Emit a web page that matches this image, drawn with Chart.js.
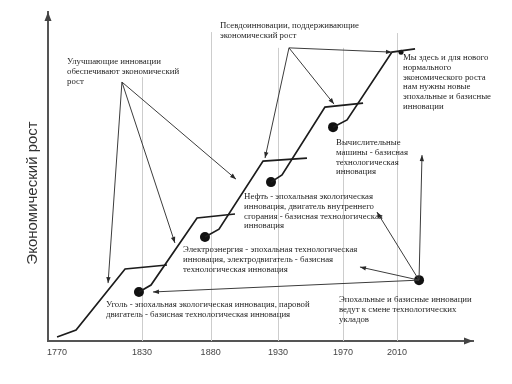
<!DOCTYPE html>
<html><head><meta charset="utf-8">
<script src="https://cdn.jsdelivr.net/npm/chart.js@4"></script>
<style>html,body{margin:0;padding:0;background:#fff;}#wrap{width:512px;height:384px;}</style>
</head><body><div id="wrap"><canvas id="c" width="512" height="384"></canvas></div>
<script>
// Schematic time axis (years) and economic growth level (0..10)
const tickYears  = [1770, 1830, 1878.4, 1926, 1971.9, 2010];
const tickLabels = ['1770', '1830', '1880', '1930', '1970', '2010'];
const gridYears  = [1830, 1878.4, 1926, 1971.9, 2010];
const gridTops   = [8.02, 9.39, 8.91, 8.91, 9.36];

// Growth staircase: one step per technological wave
const coalStep     = [[1770.0,0.12],[1783.4,0.33],[1818.0,2.19],[1847.6,2.31]];
const electricStep = [[1827.8,1.49],[1836.3,1.70],[1868.8,3.74],[1895.6,3.86]];
const oilStep      = [[1874.4,3.16],[1884.3,3.40],[1915.4,5.47],[1946.4,5.56]];
const computerStep = [[1921.0,4.83],[1928.8,5.05],[1959.1,7.11],[1986.0,7.23]];
const futureStep   = [[1964.8,6.50],[1974.7,6.72],[2006.4,8.78],[2022.7,8.88]];

// Innovation points
const bigDots   = [[1827.8,1.49],[1874.4,3.16],[1921.0,4.83],[1964.8,6.50],[2025.5,1.85]];
const smallDots = [[2012.8,8.78]];

// Arrows (from, to)
const improveArrows = [
  [[1815.8,7.87],[1806.0,1.76]],
  [[1815.8,7.87],[1853.2,2.98]],
  [[1815.8,7.87],[1896.3,4.92]]
];
const pseudoArrows = [
  [[1933.7,8.91],[1916.8,5.56]],
  [[1933.7,8.91],[1965.5,7.20]],
  [[1933.7,8.91],[2006.4,8.78]]
];
const shiftArrows = [
  [[2025.5,1.85],[2027.6,5.65]],
  [[2025.5,1.85],[1995.8,3.92]],
  [[2025.5,1.85],[1983.8,2.25]],
  [[2025.5,1.85],[1837.7,1.49]]
];

// Annotations
const yTitle = 'Экономический рост';
const notes = [
  {at:[1777.0,8.48], lines:['Улучшающие инновации','обеспечивают экономический','рост']},
  {at:[1885.0,9.57], lines:['Псевдоинновации, поддерживающие','экономический рост']},
  {at:[2014.2,8.60], lines:['Мы здесь и для нового','нормального','экономического роста','нам нужны новые','эпохальные и базисные','инновации']},
  {at:[1966.9,6.02], lines:['Вычислительные','машины - базисная','технологическая','инновация']},
  {at:[1902.0,4.38], lines:['Нефть - эпохальная экологическая','инновация, двигатель внутреннего','сгорания - базисная технологическая','инновация']},
  {at:[1858.9,2.77], lines:['Электроэнергия - эпохальная технологическая','инновация, электродвигатель - базисная','технологическая инновация']},
  {at:[1804.5,1.09], lines:['Уголь - эпохальная экологическая инновация, паровой','двигатель - базисная технологическая инновация']},
  {at:[1969.0,1.25], lines:['Эпохальные и базисные инновации','ведут к смене технологических','укладов']}
];

const toXY = arr => arr.map(([x, y]) => ({x, y}));

const datasets = [];
[...improveArrows, ...pseudoArrows, ...shiftArrows].forEach(a => datasets.push({
  data: toXY(a), showLine: true, arrow: true, borderColor: '#3c3c3c', borderWidth: 1,
  pointRadius: 0, fill: false
}));
[coalStep, electricStep, oilStep, computerStep, futureStep].forEach(s => datasets.push({
  data: toXY(s), showLine: true, borderColor: '#1c1c1c', borderWidth: 1.7,
  pointRadius: 0, fill: false
}));
datasets.push({data: toXY(bigDots), showLine: false, pointRadius: 5, backgroundColor: '#111', borderWidth: 0});
datasets.push({data: toXY(smallDots), showLine: false, pointRadius: 2.5, backgroundColor: '#111', borderWidth: 0});

function tri(ctx, tx, ty, dx, dy, len, hw) {
  const d = Math.hypot(dx, dy) || 1, ux = dx / d, uy = dy / d;
  const bx = tx - ux * len, by = ty - uy * len;
  ctx.beginPath();
  ctx.moveTo(tx, ty);
  ctx.lineTo(bx - uy * hw, by + ux * hw);
  ctx.lineTo(bx + uy * hw, by - ux * hw);
  ctx.closePath();
  ctx.fill();
}

const diagram = {
  id: 'diagram',
  beforeDatasetsDraw(chart) {
    const {ctx, scales: {x, y}} = chart;
    ctx.save();
    ctx.strokeStyle = '#cdcdcd';
    ctx.lineWidth = 1;
    gridYears.forEach((g, i) => {
      const px = Math.round(x.getPixelForValue(g)) + 0.5;
      ctx.beginPath();
      ctx.moveTo(px, y.getPixelForValue(0));
      ctx.lineTo(px, y.getPixelForValue(gridTops[i]));
      ctx.stroke();
    });
    ctx.restore();
  },
  afterDraw(chart) {
    const {ctx, chartArea: ca, scales: {x, y}} = chart;
    ctx.save();
    // arrowheads on arrow lines
    ctx.fillStyle = '#2a2a2a';
    chart.data.datasets.forEach(ds => {
      if (!ds.arrow) return;
      const n = ds.data.length, p = ds.data[n - 1], q = ds.data[n - 2];
      const tx = x.getPixelForValue(p.x), ty = y.getPixelForValue(p.y);
      const fx = x.getPixelForValue(q.x), fy = y.getPixelForValue(q.y);
      tri(ctx, tx, ty, tx - fx, ty - fy, 6, 2.2);
    });
    // axis arrowheads
    ctx.fillStyle = '#444';
    tri(ctx, ca.left, ca.top, 0, -1, 9, 3.5);
    tri(ctx, ca.right, ca.bottom, 1, 0, 9, 3.5);
    // notes
    ctx.fillStyle = '#1e1e1e';
    ctx.font = '8.8px "Liberation Serif", "DejaVu Serif", serif';
    ctx.textBaseline = 'middle';
    ctx.textAlign = 'left';
    notes.forEach(n => {
      const px = x.getPixelForValue(n.at[0]), py = y.getPixelForValue(n.at[1]);
      n.lines.forEach((t, i) => ctx.fillText(t, px, py + i * 9.7));
    });
    // y title
    ctx.fillStyle = '#333';
    ctx.font = '15px "Liberation Sans", Arial, sans-serif';
    ctx.textAlign = 'center';
    ctx.translate(ca.left - 15, y.getPixelForValue(4.5));
    ctx.rotate(-Math.PI / 2);
    ctx.fillText(yTitle, 0, 0);
    ctx.restore();
  }
};

new Chart(document.getElementById('c'), {
  type: 'scatter',
  data: {datasets},
  options: {
    responsive: false,
    animation: false,
    layout: {padding: {left: 48, top: 12, right: 39, bottom: 13}},
    plugins: {legend: {display: false}, tooltip: {enabled: false}},
    scales: {
      x: {
        type: 'linear', min: 1763.6, max: 2063.6,
        grid: {display: false, drawTicks: false},
        border: {display: true, color: '#555', width: 2},
        afterBuildTicks: s => { s.ticks = tickYears.map(v => ({value: v})); },
        afterFit: s => { s.height = 30; },
        ticks: {
          autoSkip: false, maxRotation: 0, padding: 6,
          font: {family: '"Liberation Sans", Arial, sans-serif', size: 9},
          color: '#444',
          callback: (v, i) => tickLabels[i]
        }
      },
      y: {
        type: 'linear', min: 0, max: 10,
        grid: {display: false, drawTicks: false},
        border: {display: true, color: '#555', width: 2},
        ticks: {display: false},
        afterFit: s => { s.width = 0; }
      }
    }
  },
  plugins: [diagram]
});
</script>
</body></html>
